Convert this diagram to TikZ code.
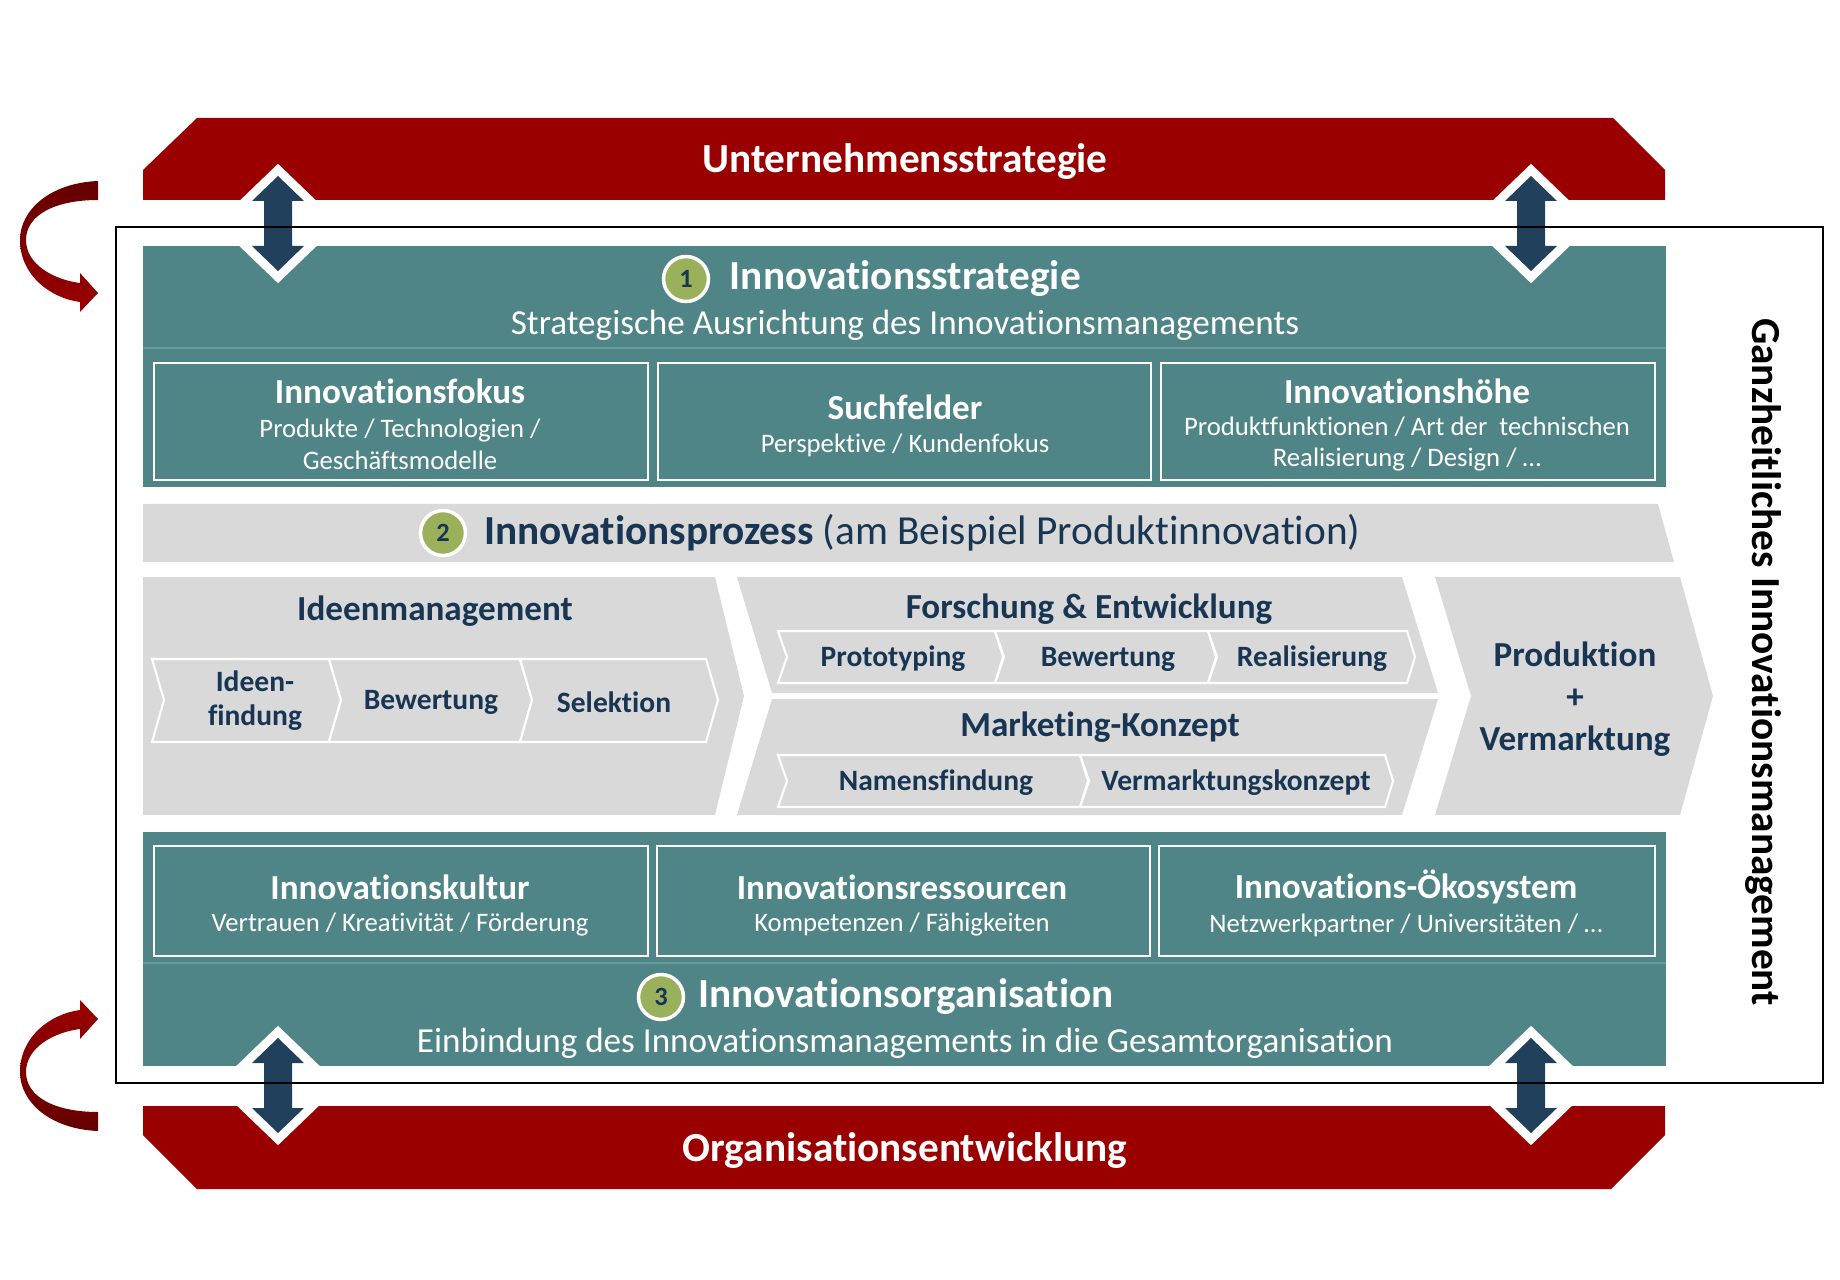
\documentclass[tikz,border=0pt]{standalone}
\usepackage{fontspec}
\setmainfont{Carlito}[Ligatures=NoCommon]
\usetikzlibrary{positioning,calc}

\definecolor{bannerred}{RGB}{155,0,0}
\definecolor{darkbanner}{RGB}{100,0,0}
\definecolor{tealblock}{RGB}{80,133,135}
\definecolor{tealline}{RGB}{104,154,156}
\definecolor{procgray}{RGB}{217,217,217}
\definecolor{navytext}{RGB}{24,54,84}
\definecolor{arrowblue}{RGB}{33,64,92}
\definecolor{badgegreen}{RGB}{155,176,90}

\begin{document}
\begin{tikzpicture}[
  x=0.02cm, y=-0.02cm,
  banner title/.style={text=white, font=\bfseries\fontsize{23.5}{28}\selectfont},
  block title/.style={text=white, font=\bfseries\fontsize{23.5}{28}\selectfont},
  block sub/.style={text=white, font=\fontsize{20}{24}\selectfont},
  box title/.style={text=white, font=\bfseries\fontsize{20}{24}\selectfont},
  box sub/.style={text=white, align=center, font=\fontsize{15.2}{18.1}\selectfont},
  subbox/.style={draw=white, line width=1.5pt},
  badge/.style={circle, fill=badgegreen, draw=white, line width=2pt,
    minimum size=0.9cm, inner sep=0pt, text=navytext,
    font=\bfseries\fontsize{15}{18}\selectfont},
  stage/.style={fill=procgray},
  stepchev/.style={fill=procgray, draw=white, line width=1.2pt},
  stage title/.style={text=navytext, font=\bfseries\fontsize{20}{24}\selectfont},
  step text/.style={text=navytext, align=center, font=\bfseries\fontsize{16.8}{19.3}\selectfont},
  dblarrow/.style={fill=arrowblue, preaction={draw=white, line width=10pt, line join=miter}}
]%
  \useasboundingbox (0,0) rectangle (1840,1280);

  % Red banners
  \fill[bannerred]
    (197,118) -- (1613,118) -- (1665,170) -- (1665,200) -- (143,200) -- (143,170) -- cycle;
  \fill[bannerred]
    (143,1106) -- (1665,1106) -- (1665,1135) -- (1611,1189) -- (197,1189) -- (143,1135) -- cycle;
  \node[banner title] (strat) at (905,162) {Unternehmensstrategie};
  \node[banner title] (orgdev) at (905,1151) {Organisationsentwicklung};

  % Teal blocks
  \fill[tealblock] (143,246) rectangle (1666,487);
  \draw[tealline, line width=0.8pt] (143,348) -- (1666,348);
  \fill[tealblock] (143,832) rectangle (1666,1066);
  \draw[tealline, line width=0.8pt] (143,963) -- (1666,963);

  % Innovationsstrategie
  \node[badge] (b1) at (686,279) {1};
  \node[block title, right=0.27cm of b1] (istrat) {Innovationsstrategie};
  \node[block sub] (istratsub) at (905,325) {Strategische Ausrichtung des Innovationsmanagements};

  \draw[subbox] (154,363) rectangle (648,480);
  \draw[subbox] (658,363) rectangle (1151,480);
  \draw[subbox] (1161,363) rectangle (1655,480);
  \node[box title] (fokus) at (400,391) {Innovationsfokus};
  \node[box sub] (fokussub) at (400,444) {Produkte / Technologien /\\Geschäftsmodelle};
  \node[box title] (such) at (905,407) {Suchfelder};
  \node[box sub] (suchsub) at (905,445) {Perspektive / Kundenfokus};
  \node[box title] (hoehe) at (1407,391) {Innovationshöhe};
  \node[box sub] (hoehesub) at (1407,444) {Produktfunktionen / Art der~ technischen\\Realisierung / Design / \dots};

  % Innovationsprozess
  \fill[stage] (143,504) -- (1658,504) -- (1674,562) -- (143,562) -- cycle;
  \node[badge] (b2) at (443,533) {2};
  \node[right=0.22cm of b2, text=navytext, font=\fontsize{23.5}{28}\selectfont] (iproz)
    {\textbf{Innovationsprozess} (am Beispiel Produktinnovation)};

  \fill[stage] (143,577) -- (715,577) -- (744,696) -- (715,815) -- (143,815) -- cycle;
  \fill[stage] (737,577) -- (1402,577) -- (1438,693) -- (772,693) -- cycle;
  \fill[stage] (772,699) -- (1438,699) -- (1402,815) -- (737,815) -- cycle;
  \fill[stage] (1435,577) -- (1680,577) -- (1713,696) -- (1680,815) -- (1435,815) -- (1471,696) -- cycle;

  \foreach \xa/\xb in {152/329, 329/520, 520/706}
    \draw[stepchev] (\xa,659) -- (\xb,659) -- ({\xb+12},700) -- (\xb,742) -- (\xa,742) -- ({\xa+12},700) -- cycle;
  \foreach \xa/\xb in {778/995, 995/1208, 1208/1407}
    \draw[stepchev] (\xa,631) -- (\xb,631) -- ({\xb+8},657) -- (\xb,683) -- (\xa,683) -- ({\xa+9},657) -- cycle;
  \foreach \xa/\xb in {778/1080, 1080/1385}
    \draw[stepchev] (\xa,755) -- (\xb,755) -- ({\xb+8},781) -- (\xb,807) -- (\xa,807) -- ({\xa+9},781) -- cycle;

  \node[stage title] (ideen) at (435,611) {Ideenmanagement};
  \node[step text] (findung) at (255,701) {Ideen-\\findung};
  \node[step text] (bew1) at (431,702) {Bewertung};
  \node[step text] (selek) at (614,702) {Selektion};

  \node[stage title] (fue) at (1089,609) {Forschung \& Entwicklung};
  \node[step text] (proto) at (893,659) {Prototyping};
  \node[step text] (bew2) at (1108,659) {Bewertung};
  \node[step text] (real) at (1312,659) {Realisierung};

  \node[stage title] (mark) at (1100,727) {Marketing-Konzept};
  \node[step text] (namen) at (936,783) {Namensfindung};
  \node[step text] (vkonz) at (1236,783) {Vermarktungskonzept};

  \node[stage title, align=center, font=\bfseries\fontsize{20}{24}\selectfont] (prod) at (1575,699)
    {Produktion\\+\\Vermarktung};

  % Innovationsorganisation
  \draw[subbox] (154,846) rectangle (648,956);
  \draw[subbox] (657,846) rectangle (1150,956);
  \draw[subbox] (1159,846) rectangle (1655,956);
  \node[box title] (kultur) at (400,887) {Innovationskultur};
  \node[box sub] (kultursub) at (400,925) {Vertrauen / Kreativität / Förderung};
  \node[box title] (ress) at (902,887) {Innovationsressourcen};
  \node[box sub] (resssub) at (902,925) {Kompetenzen / Fähigkeiten};
  \node[box title] (oeko) at (1406,887) {Innovations-Ökosystem};
  \node[box sub] (oekosub) at (1406,925) {Netzwerkpartner / Universitäten / \dots};

  \node[badge] (b3) at (661,997) {3};
  \node[block title, right=0.14cm of b3] (iorg) {Innovationsorganisation};
  \node[block sub] (iorgsub) at (905,1043) {Einbindung des Innovationsmanagements in die Gesamtorganisation};

  % Double arrows
  \foreach \ax/\at in {278/176, 1531/176, 278/1038, 1531/1038}
    \path[dblarrow] (\ax,\at) -- ++(26,25) -- ++(-12,0) -- ++(0,45) -- ++(12,0) -- ++(-26,25)
      -- ++(-26,-25) -- ++(12,0) -- ++(0,-45) -- ++(-12,0) -- cycle;

  % Frame
  \draw[line width=1.5pt] (116,227) rectangle (1823,1083);
  \node[rotate=-90, font=\bfseries\fontsize{23.5}{28}\selectfont] (ganz) at (1763,662)
    {Ganzheitliches Innovationsmanagement};

  % Curved arrows
  \shade[top color=darkbanner, bottom color=bannerred]
    (98,181) .. controls (50,183) and (20,210) .. (20,240)
    .. controls (20,275) and (50,298) .. (80,302) -- (80,312) -- (98,293) -- (80,273) -- (80,283)
    .. controls (55,280) and (26,265) .. (26,240)
    .. controls (26,215) and (55,200) .. (98,200) -- cycle;
  \shade[top color=bannerred, bottom color=darkbanner]
    (98,1131) .. controls (50,1129) and (20,1102) .. (20,1072)
    .. controls (20,1037) and (50,1014) .. (80,1010) -- (80,1000) -- (98,1019) -- (80,1039) -- (80,1029)
    .. controls (55,1032) and (26,1047) .. (26,1072)
    .. controls (26,1097) and (55,1112) .. (98,1112) -- cycle;
\end{tikzpicture}
\end{document}
